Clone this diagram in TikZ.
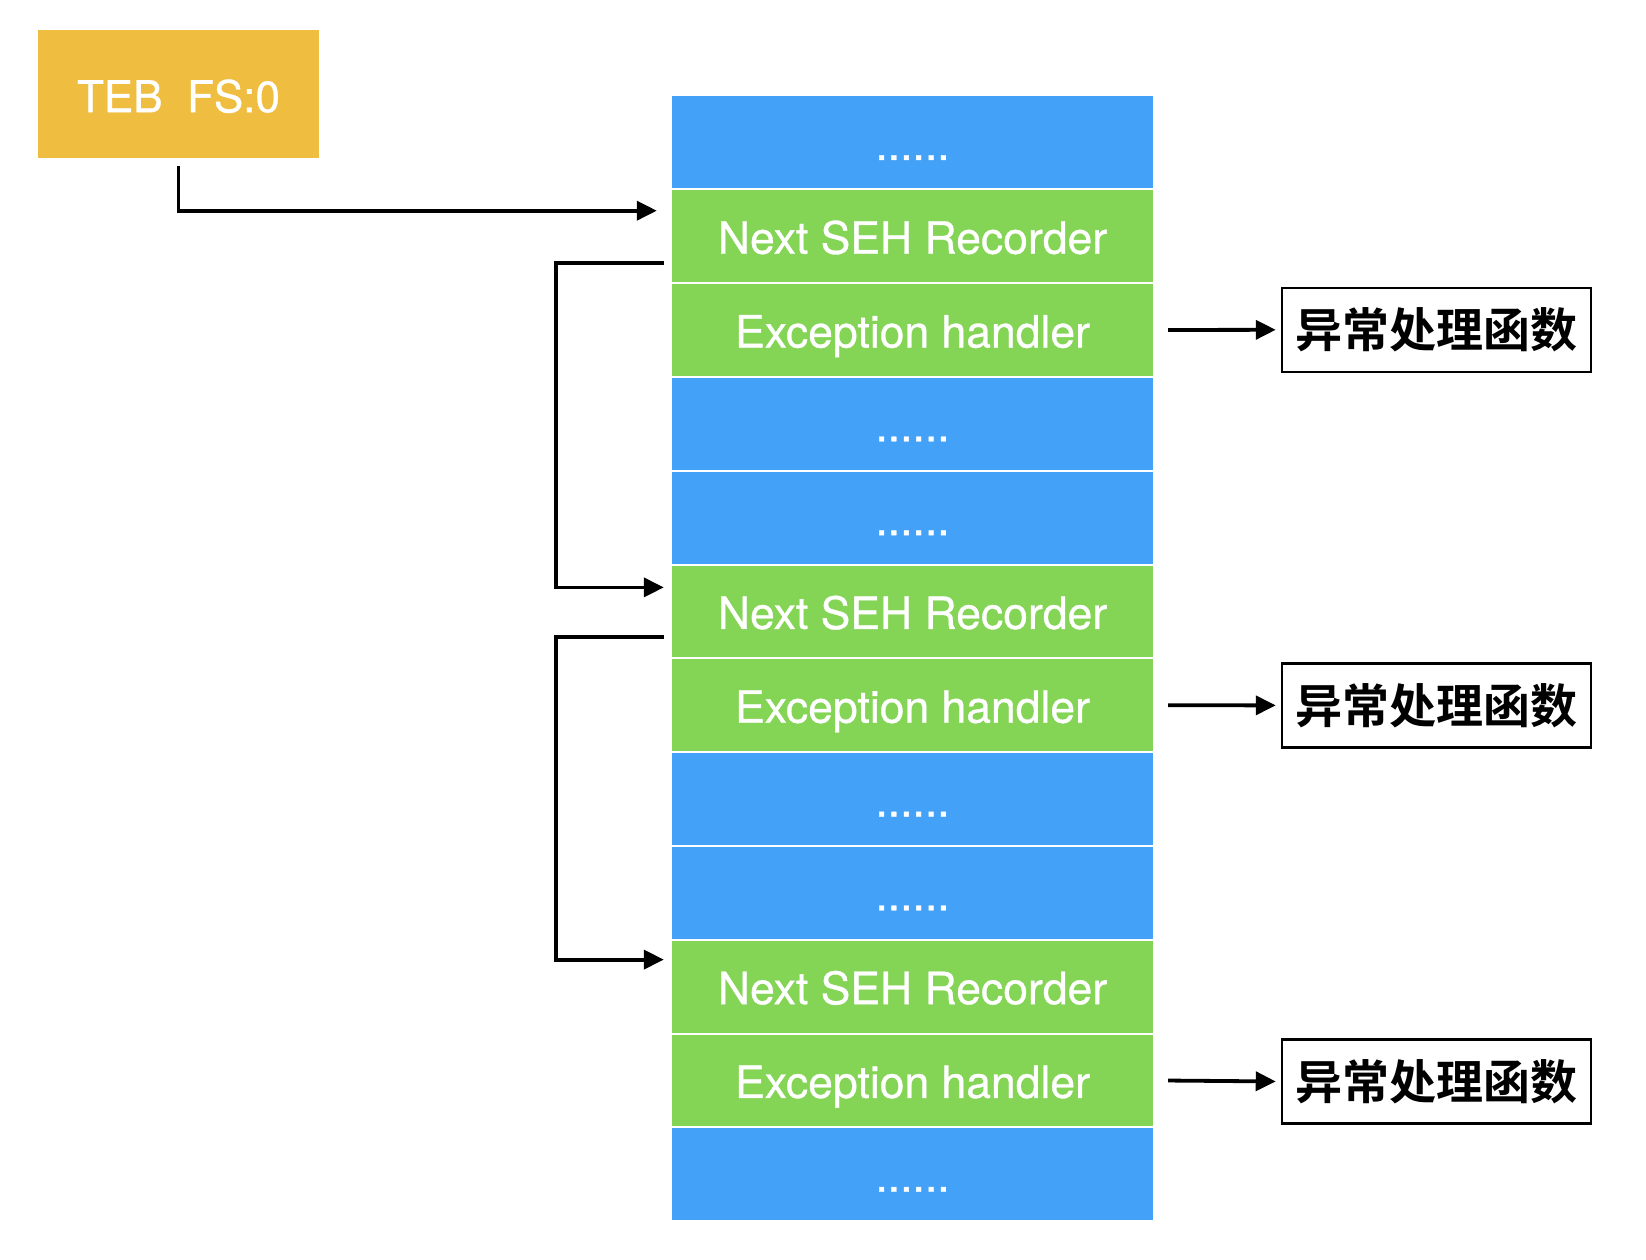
\documentclass[tikz,border=0pt]{standalone}
\usepackage{fontspec}
\setmainfont{TeX Gyre Heros}
\newfontfamily\medfont{TeX Gyre Heros}[FakeBold=0.7]
\newfontfamily\cjkbold{Noto Sans CJK SC Bold}
\usetikzlibrary{arrows.meta}
\definecolor{tebc}{HTML}{EFBD40}
\definecolor{bluec}{HTML}{44A1F8}
\definecolor{greenc}{HTML}{84D455}
\begin{document}
\begin{tikzpicture}[x=1pt,y=-1pt,
  cell/.style={minimum width=481pt, minimum height=91.8pt, inner sep=0pt,
    text=white, font=\medfont\fontsize{44.5}{53}\selectfont, text height=35pt, text depth=0pt},
  bluecell/.style={cell, fill=bluec},
  greencell/.style={cell, fill=greenc},
  tebbox/.style={fill=tebc, minimum width=281pt, minimum height=128pt, inner sep=0pt,
    text=white, font=\medfont\fontsize{44}{53}\selectfont, text height=36.5pt, text depth=0pt},
  handler/.style={draw=black, line width=2.5pt, minimum width=309pt, minimum height=84pt,
    inner sep=0pt, font=\cjkbold\fontsize{47}{56}\selectfont, text height=35.8pt, text depth=0pt},
  arr/.style={line width=3.8pt, -{Triangle[length=20pt,width=19pt]}}]
\useasboundingbox (0,0) rectangle (1646,1260);

\node[tebbox] (teb) at (178.5,94) {TEB\ \ FS:0};

\node[bluecell]  (r1)  at (912.5,142.4)  {......};
\node[greencell] (r2)  at (912.5,236.2)  {Next SEH Recorder};
\node[greencell] (r3)  at (912.5,330.0)  {Exception handler};
\node[bluecell]  (r4)  at (912.5,423.8)  {......};
\node[bluecell]  (r5)  at (912.5,517.6)  {......};
\node[greencell] (r6)  at (912.5,611.4)  {Next SEH Recorder};
\node[greencell] (r7)  at (912.5,705.2)  {Exception handler};
\node[bluecell]  (r8)  at (912.5,799.0)  {......};
\node[bluecell]  (r9)  at (912.5,892.8)  {......};
\node[greencell] (r10) at (912.5,986.6)  {Next SEH Recorder};
\node[greencell] (r11) at (912.5,1080.4) {Exception handler};
\node[bluecell]  (r12) at (912.5,1174.2) {......};

\node[handler] (h1) at (1436.5,329.8)  {异常处理函数};
\node[handler] (h2) at (1436.5,705.4)  {异常处理函数};
\node[handler] (h3) at (1436.5,1081.5) {异常处理函数};

\draw[arr, shorten <=8pt, shorten >=15pt] (teb.south) |- ([yshift=25.5pt]r2.west);
\draw[arr] ([shift={(-8pt,-27pt)}]r2.west) -- ++(-108pt,0) |- ([shift={(-8pt,24pt)}]r6.west);
\draw[arr] ([shift={(-8pt,-25.5pt)}]r6.west) -- ++(-108pt,0) |- ([shift={(-8pt,27pt)}]r10.west);

\draw[arr, shorten <=15pt, shorten >=5pt] (r3.east) -- (h1.west);
\draw[arr, shorten <=15pt, shorten >=5pt] (r7.east) -- (h2.west);
\draw[arr, shorten <=15pt, shorten >=5pt] (r11.east) -- (h3.west);
\end{tikzpicture}
\end{document}
